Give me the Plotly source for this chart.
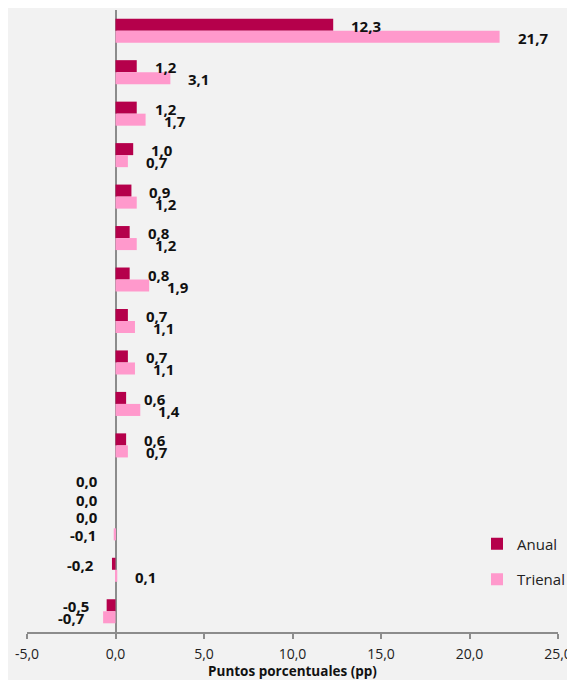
import plotly.graph_objects as go

categories = [str(i) for i in range(1, 16)]
anual = [12.3, 1.2, 1.2, 1.0, 0.9, 0.8, 0.8, 0.7, 0.7, 0.6, 0.6, 0.0, 0.0, -0.2, -0.5]
trienal = [21.7, 3.1, 1.7, 0.7, 1.2, 1.2, 1.9, 1.1, 1.1, 1.4, 0.7, 0.0, -0.1, 0.1, -0.7]
x_ticks = [-5, 0, 5, 10, 15, 20, 25]
x_tick_labels = ["-5,0", "0,0", "5,0", "10,0", "15,0", "20,0", "25,0"]

C_ANUAL = "#B5004B"
C_TRIENAL = "#FF99CC"
FONT = "Open Sans, Noto Sans, sans-serif"

# page body has an 8px default margin; compensate
OFF = 8
W, H = 575 - OFF, 680 - OFF
L, R, T, B = 27 - OFF, 17, 10 - OFF, 48
PW = W - L - R

ypos = list(range(len(categories)))

fig = go.Figure()
fig.add_trace(go.Bar(y=ypos, x=anual, orientation="h", name="Anual",
                     marker=dict(color=C_ANUAL, line=dict(width=0)),
                     legendgroup="a"))
fig.add_trace(go.Bar(y=ypos, x=trienal, orientation="h", name="Trienal",
                     marker=dict(color=C_TRIENAL, line=dict(width=0)),
                     legendgroup="t"))

def fmt(v):
    s = f"{abs(v):.1f}".replace(".", ",")
    return ("-" + s) if v < -0.04 else s

# small vertical nudges (px) for crowded labels: (series, index) -> shift
nudges = {(0, 11): 1, (1, 11): -6, (0, 12): 6, (1, 12): 0}

bargap = 0.42
half = (1 - bargap) / 4
annotations = []
for si, (series, off) in enumerate(((anual, -half), (trienal, half))):
    for i, v in enumerate(series):
        pos = v > 0
        annotations.append(dict(
            x=v, y=i + off, xref="x", yref="y", text="<b>" + fmt(v) + "</b>",
            showarrow=False, xanchor="left" if pos else "right",
            xshift=16 if pos else -16, yshift=-1 + nudges.get((si, i), 0),
            font=dict(family=FONT, size=15, color="#111111")))

fig.update_layout(
    width=W, height=H,
    margin=dict(l=L, r=R, t=T, b=B),
    paper_bgcolor="#F2F2F2", plot_bgcolor="#F2F2F2",
    barmode="group", bargap=bargap, bargroupgap=0,
    annotations=annotations,
    showlegend=True,
    legend=dict(x=(477 - 27) / PW, xanchor="left", y=0.168, yanchor="top",
                font=dict(family=FONT, size=15, color="#222222"),
                tracegroupgap=13, traceorder="grouped", itemwidth=30,
                bgcolor="rgba(0,0,0,0)"),
    font=dict(family=FONT),
)

fig.update_xaxes(range=[-5, 25], tickvals=x_ticks, ticktext=x_tick_labels,
                 showgrid=False, zeroline=True, zerolinecolor="#8C8C8C",
                 zerolinewidth=2, showline=True, linecolor="#8C8C8C",
                 linewidth=2, ticks="outside", ticklen=5, tickwidth=1.5,
                 tickcolor="#8C8C8C", ticklabelstandoff=3,
                 tickfont=dict(family=FONT, size=14, color="#222222"),
                 title=dict(text="<b>Puntos porcentuales (pp)</b>", standoff=3,
                            font=dict(family=FONT, size=13.5, color="#111111")))
fig.update_yaxes(range=[len(categories) - 0.5, -0.5], showticklabels=False,
                 showgrid=False, zeroline=False, showline=False, ticks="")

fig.write_html("out.html", config={"displayModeBar": False})
